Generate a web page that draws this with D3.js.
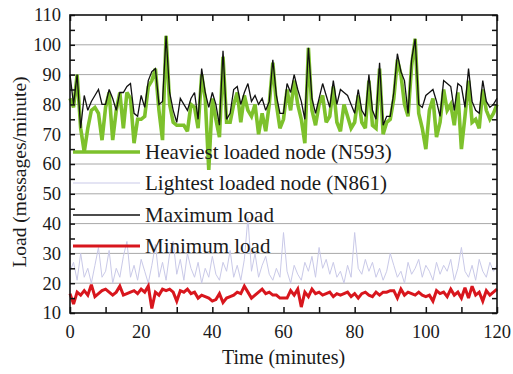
<!DOCTYPE html>
<html><head><meta charset="utf-8">
<script src="https://cdn.jsdelivr.net/npm/d3@7"></script>
<style>body{margin:0;background:#fff}svg{display:block}text{font-family:"Liberation Serif","Times New Roman",serif;fill:#1a1a1a}</style>
</head><body>
<svg id="c" width="513" height="374"></svg>
<script>
const minutes = d3.range(0, 121);
const heaviest = [82,79,90,72,64,72,78,79,77,68,79,84,68,78,84,72,84,82,67,75,75,76,86,88,92,78,68,103,80,74,73,73,73,71,80,79,72,90,82,58,82,75,69,96,74,74,80,84,74,83,78,76,80,70,77,71,80,94,80,72,75,85,78,88,80,75,67,99,78,73,80,83,74,76,86,74,71,80,76,72,74,83,74,72,88,73,72,92,70,74,75,82,95,90,80,76,93,102,77,72,65,78,82,69,74,85,78,80,73,84,65,76,88,74,75,72,85,78,75,77,80];
const lightest = [24,27,21,30,22,25,20,26,32,22,24,31,20,25,22,29,34,22,26,21,28,24,20,26,33,22,27,21,30,34,23,28,21,30,25,22,27,20,25,22,29,23,21,27,24,31,22,26,21,28,42,24,30,22,26,29,23,21,25,22,37,24,20,26,23,21,27,24,29,22,32,25,28,23,27,22,24,20,26,22,37,25,23,28,24,27,22,25,21,24,30,26,22,24,20,27,23,25,28,22,26,24,21,27,23,26,24,28,21,25,32,24,22,26,21,28,24,22,27,24,26];
const maximum = [90,80,90,72,83,78,81,83,85,80,80,85,82,78,84,84,86,87,77,76,83,79,88,91,92,80,81,103,84,78,74,82,80,78,82,84,75,92,84,79,84,80,73,98,75,77,85,86,80,84,87,81,83,80,82,78,81,95,83,77,77,87,84,90,85,81,75,99,82,77,82,87,83,79,88,80,85,84,83,80,77,85,78,76,90,78,75,94,73,76,76,84,97,91,88,77,95,102,80,79,83,84,85,81,76,88,87,86,78,87,86,79,92,81,78,77,88,81,79,80,82];
const minimum = [16.5,13,17,16,17.5,16,19.5,15.5,16.5,17.5,18,17,16,17,19,16,16.5,17,17.5,16.5,18,17,19,11.5,17,16,18,17.5,18,17,14,17.5,17,18,16.5,17,15,16,15.5,15,14,14.5,16.5,13.5,15,15.5,16,17,16.5,19,17,15,16,17,18,16.5,17,16,16,15,15,15,17.5,16,18,12,17,15.5,18,16.5,17,16,16.5,17,15.5,16.5,16,16.5,17,15.5,16.5,15,16.5,17,16,15.5,17,16,17,17,17.5,17.5,15,18,16,17,16.5,16,17,16,15.5,16,14,17.5,16.5,17,15.5,18,16,17,15,18.5,15,19,16,17,14,17.5,16,17,18];
const xTickLabels = [0,20,40,60,80,100,120];
const yTickLabels = [10,20,30,40,50,60,70,80,90,100,110];
const gridValues = [20,30,40,50,60,70,80,90,100];
const legendNames = ["Heaviest loaded node (N593)","Lightest loaded node (N861)","Maximum load","Minimum load"];

const FONT = "'Liberation Serif','Times New Roman',serif";
const svg = d3.select("#c");
const L = 70, R = 497, T = 15, B = 313;
const x = d3.scaleLinear().domain([0,120]).range([L,R]);
const y = d3.scaleLinear().domain([10,110]).range([B,T]);

// grid
svg.append("g").selectAll("line").data(gridValues).join("line")
  .attr("x1",L).attr("x2",R).attr("y1",d=>y(d)).attr("y2",d=>y(d))
  .attr("stroke","#a8a8a8").attr("stroke-width",1);

const styles = [
  {data: heaviest, color:"#7dc12c", w:3.6},
  {data: lightest, color:"#c9c9e8", w:1},
  {data: maximum, color:"#111", w:1.3},
  {data: minimum, color:"#d8161d", w:3}
];
const line = d3.line().x((d,i)=>x(minutes[i])).y(d=>y(d));
const order = [1,3,0,2];
order.forEach(k=>{
  svg.append("path").datum(styles[k].data).attr("d",line)
    .attr("fill","none").attr("stroke",styles[k].color).attr("stroke-width",styles[k].w)
    .attr("stroke-linejoin","miter").attr("stroke-miterlimit",3);
});

// legend
const legY = [152,183,215,246];
legendNames.forEach((n,i)=>{
  svg.append("line").attr("x1",73).attr("x2",140).attr("y1",legY[i]).attr("y2",legY[i])
    .attr("stroke",styles[i].color).attr("stroke-width",styles[i].w);
  svg.append("text").attr("x",145).attr("y",legY[i]).attr("dy","0.35em")
    .attr("font-family",FONT).attr("font-size","21px").attr("fill","#222").text(n);
});

// axes (ticks inward)
const axB = d3.axisBottom(x).tickValues(d3.range(0,121,10)).tickSize(-6).tickFormat("");
const axT = d3.axisTop(x).tickValues(d3.range(0,121,10)).tickSize(-6).tickFormat("");
const axLf = d3.axisLeft(y).tickValues(d3.range(10,111,5)).tickSize(-5).tickFormat("");
const axRt = d3.axisRight(y).tickValues(d3.range(10,111,5)).tickSize(-5).tickFormat("");
[[axB,`translate(0,${B})`],[axT,`translate(0,${T})`],[axLf,`translate(${L},0)`],[axRt,`translate(${R},0)`]].forEach(([a,t])=>{
  const g = svg.append("g").attr("transform",t).call(a);
  g.select(".domain").remove();
  g.selectAll("line").attr("stroke","#111").attr("stroke-width",1.5);
});
svg.append("rect").attr("x",L).attr("y",T).attr("width",R-L).attr("height",B-T)
  .attr("fill","none").attr("stroke","#111").attr("stroke-width",1.6);

// tick labels
svg.append("g").selectAll("text").data(xTickLabels).join("text")
  .attr("x",d=>x(d)).attr("y",338).attr("text-anchor","middle")
  .attr("font-family",FONT).attr("font-size","18.5px").text(d=>d);
svg.append("g").selectAll("text").data(yTickLabels).join("text")
  .attr("x",61).attr("y",d=>y(d)).attr("dy","0.35em").attr("text-anchor","end")
  .attr("font-family",FONT).attr("font-size","18.5px").text(d=>d);

// titles
svg.append("text").attr("x",(L+R)/2).attr("y",364).attr("text-anchor","middle")
  .attr("font-family",FONT).attr("font-size","20px").text("Time (minutes)");
svg.append("text").attr("transform","translate(26,172) rotate(-90)").attr("text-anchor","middle")
  .attr("font-family",FONT).attr("font-size","19.5px").text("Load (messages/minute)");
</script>
</body></html>
